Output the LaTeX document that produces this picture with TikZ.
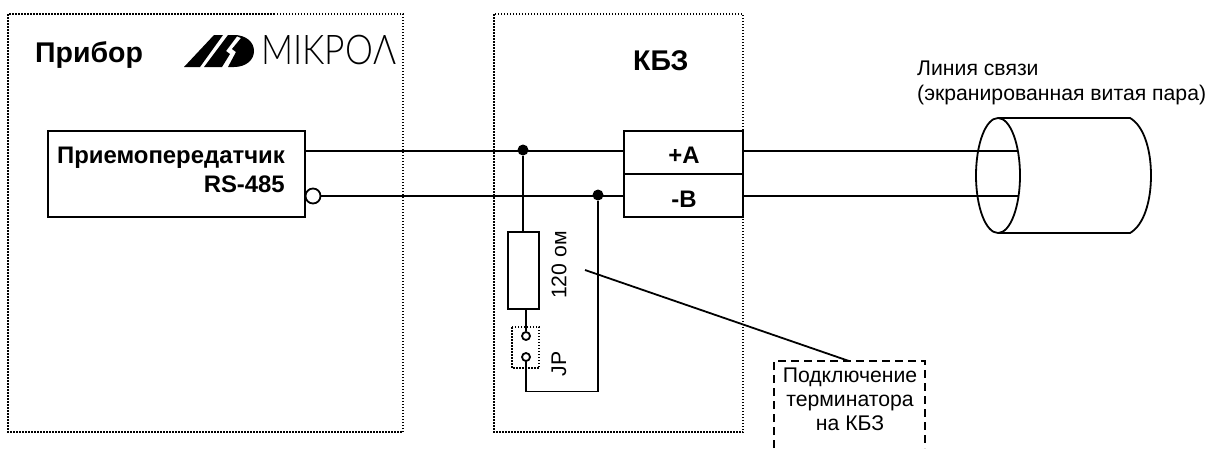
\documentclass[tikz,border=0pt]{standalone}
\usepackage{fontspec}
\setmainfont{Liberation Sans}
\newfontfamily\logofont{Lato Light}
\tikzset{
  wire/.style={line width=1.8pt},
  box/.style={draw,line width=1.8pt,minimum width=0,inner sep=0},
  frame/.style={draw,line width=1.5pt,dash pattern=on 1.5pt off 1.5pt},
  dotnode/.style={circle,fill=black,inner sep=0,minimum size=11pt},
  pin/.style={circle,draw,line width=1.8pt,fill=white,inner sep=0,minimum size=8pt},
  bold/.style={font=\fontsize{23.9}{26}\selectfont\bfseries},
  bigbold/.style={font=\fontsize{28.5}{30}\selectfont\bfseries},
  plain/.style={font=\fontsize{21.2}{24}\selectfont}
}
\begin{document}
\begin{tikzpicture}[x=1pt,y=-1pt]
\useasboundingbox (0,0) rectangle (1209,448);
% frames
\path[frame] (8,14) rectangle (403,432);
\path[frame] (494,14) rectangle (743,432);
\path[frame] (512,327) rectangle (539,368);
% logo
\fill (184,67) -- (214,35) -- (223,35) -- (200,67) -- cycle;
\fill (204,67) -- (228,35) -- (238,35) -- (226,51) -- (230,54) -- (222,67) -- cycle;
\fill (234,35) .. controls (246,35) and (254,42) .. (254,51) .. controls (254,60) and (246,67) .. (234,67) -- (228,67) -- (236,52) -- (232,49) -- (241,38) -- cycle;
\node[anchor=west,inner sep=0,xscale=.86,font=\fontsize{41}{41}\selectfont\logofont] (logo) at (261,50) {MIKPOΛ};
% texts
\node[bigbold,anchor=base west,inner sep=0] (pribor) at (35,62) {Прибор};
\node[bigbold,anchor=base west,inner sep=0] (kbz) at (633,70) {КБЗ};
% boxes
\coordinate (txNW) at (48,131); \coordinate (txSE) at (305,217);
\draw[wire] (txNW) rectangle (txSE);
\node[bold,anchor=base east,inner sep=0] (txa) at (285,163) {Приемопередатчик};
\node[bold,anchor=base east,inner sep=0] (txb) at (285,192) {RS-485};
\node[box,minimum width=119pt,minimum height=43pt] (ta) at (683.5,152.5) {};
\node[box,minimum width=119pt,minimum height=43pt] (tb) at (683.5,195.5) {};
\node[bold,anchor=base,inner sep=0] at (684,163) {+A};
\node[bold,anchor=base,inner sep=0] at (684,207) {-B};
\node[circle,draw,line width=1.8pt,inner sep=0,minimum size=15pt] (bub) at (313,196) {};
% wires
\coordinate (txo) at (305,151);
\coordinate (taw) at (624,151); \coordinate (tbw) at (624,196);
\coordinate (tae) at (743,151); \coordinate (tbe) at (743,196);
\coordinate (cab) at (1018,151); \coordinate (cbb) at (1018,196);
\draw[wire] (txo) -- (taw);
\draw[wire] (bub) -- (tbw);
\draw[wire] (tae) -- (cab);
\draw[wire] (tbe) -- (cbb);
\node[dotnode] (d1) at (523,150) {};
\node[dotnode] (d2) at (598,195) {};
\node[box,minimum width=31pt,minimum height=77pt] (res) at (523.5,270.5) {};
\node[pin] (p1) at (526,336) {};
\node[pin] (p2) at (526,357) {};
\coordinate (c1) at (526,391.5);
\coordinate (c2) at (598,391.5);
\draw[wire,line width=2.2pt] (d1) -- (d1 |- res.north);
\draw[wire] (526,309) -- (p1);
\draw[wire,line cap=round] (p2) -- (c1) -- (c2);
\draw[wire,line width=2.2pt] (c2) -- (d2);
\node[plain,rotate=90,inner sep=0] (r120) at (559,265) {120 ом};
\node[plain,rotate=90,inner sep=0] (jp) at (559,364) {JP};
% note
\draw[wire,dash pattern=on 8pt off 5pt] (774,448) -- (774,361) -- (925,361) -- (925,448);
\coordinate (nt) at (849,361);
\coordinate (lf) at (585,270);
\draw[wire] (lf) -- (nt);
\node[plain,anchor=base,inner sep=0] (n1) at (850,382) {Подключение};
\node[plain,anchor=base,inner sep=0] (n2) at (850,406) {терминатора};
\node[plain,anchor=base,inner sep=0] (n3) at (850,430) {на КБЗ};
% cable
\node[plain,anchor=base west,inner sep=0] (l1) at (917,75) {Линия связи};
\node[plain,anchor=base west,inner sep=0] (l2) at (917,100) {(экранированная витая пара)};
\draw[wire] (998,175.5) ellipse [x radius=22,y radius=57.5];
\draw[wire] (998,118) -- (1130,118) .. controls (1144,126) and (1151,150) .. (1151,175.5) .. controls (1151,201) and (1144,225) .. (1130,233) -- (998,233);
\end{tikzpicture}
\end{document}
